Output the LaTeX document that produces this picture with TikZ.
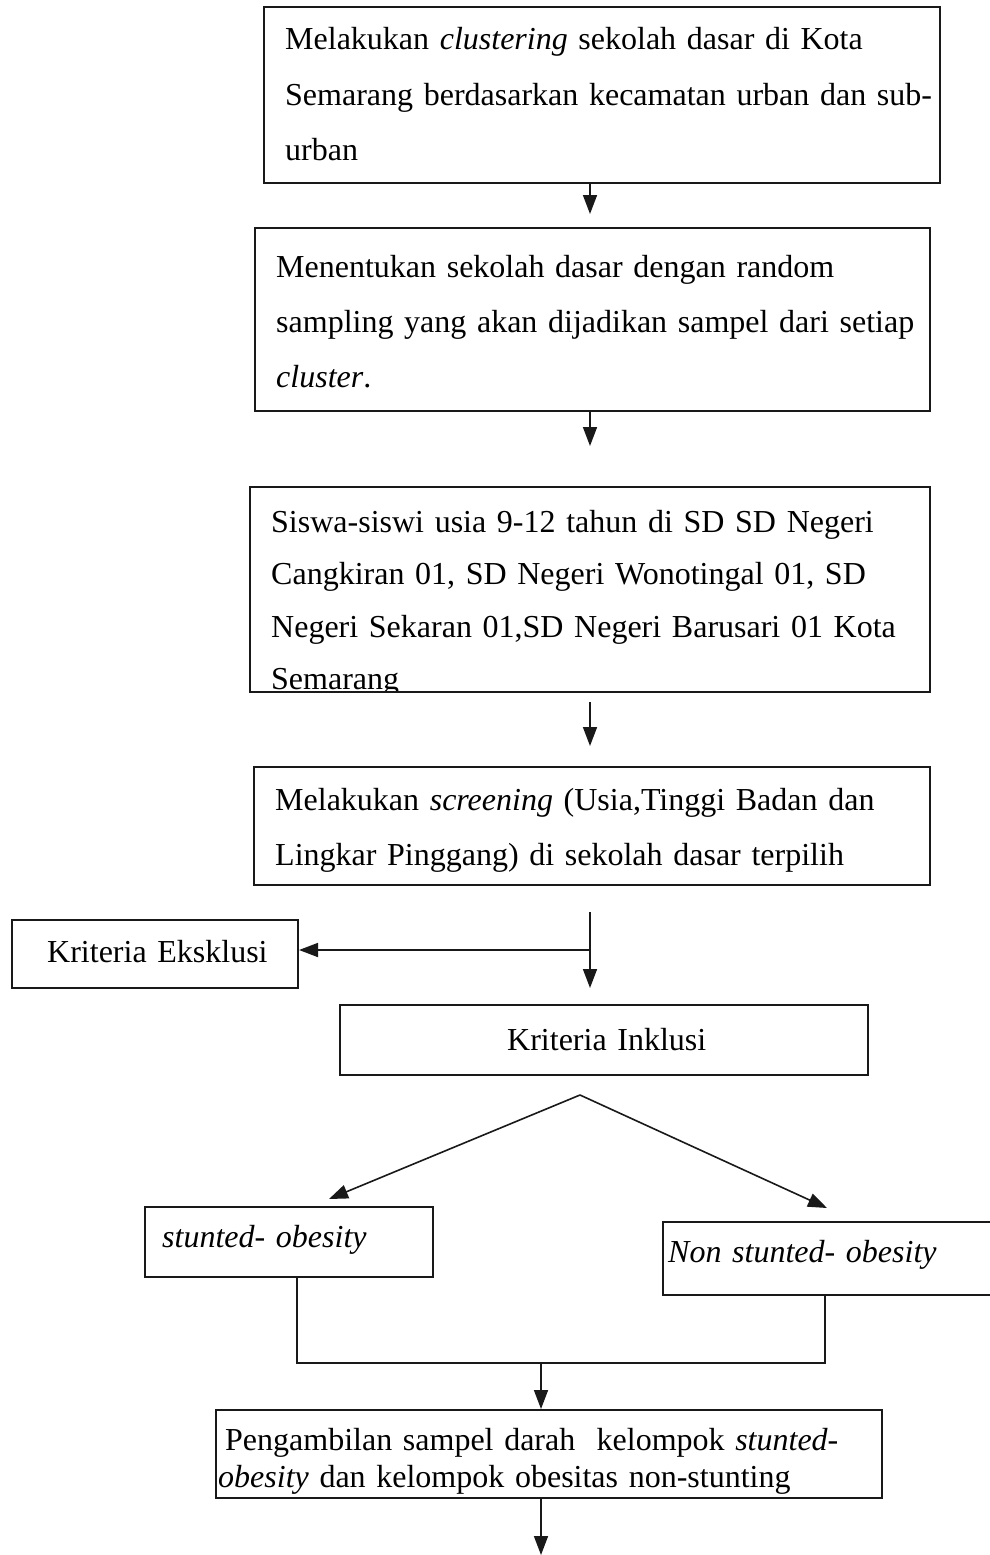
\documentclass[tikz,border=0pt]{standalone}
\usepackage{fontspec}
\setmainfont{Liberation Serif}
\usetikzlibrary{arrows.meta}
\begin{document}
\begin{tikzpicture}[x=1pt,y=-1pt,
  boxln/.style={draw=black!90, line width=2pt},
  txt/.style={inner sep=0pt, anchor=base west, align=left, text width=#1,
    font=\fontsize{32}{55.2}\selectfont},
  txtm/.style={inner sep=0pt, anchor=base west, align=left, text width=#1,
    font=\fontsize{32}{52.5}\selectfont},
  txts/.style={inner sep=0pt, anchor=base west, align=left, text width=#1,
    font=\fontsize{32}{37}\selectfont},
  conn/.style={draw=black!90, line width=1.6pt},
  arr/.style={conn, -{Triangle[length=19pt,width=14pt]}}]
\useasboundingbox (0,0) rectangle (990,1555);
% box 1
\node[boxln, minimum width=676pt, minimum height=176pt, inner sep=0pt] (b1) at (602,95) {};
\node[txt=660pt] (t1) at (285,50) {Melakukan \textit{clustering} sekolah dasar di Kota\\Semarang berdasarkan kecamatan urban dan sub-\\urban};
% box 2
\node[boxln, minimum width=675pt, minimum height=183pt, inner sep=0pt] (b2) at (592.5,319.5) {};
\node[txt=660pt] (t2) at (276,277) {Menentukan sekolah dasar dengan random\\sampling yang akan dijadikan sampel dari setiap\\\textit{cluster}.};
% box 3
\begin{scope}
\clip (250,487) rectangle (930,692);
\node[txtm=660pt] (t3) at (271,532) {Siswa-siswi usia 9-12 tahun di SD SD Negeri\\Cangkiran 01, SD Negeri Wonotingal 01, SD\\Negeri Sekaran 01,SD Negeri Barusari 01 Kota\\Semarang};
\end{scope}
\node[boxln, minimum width=680pt, minimum height=205pt, inner sep=0pt] (b3) at (590,589.5) {};
% box 4
\node[boxln, minimum width=676pt, minimum height=118pt, inner sep=0pt] (b4) at (592,826) {};
\node[txt=660pt] (t4) at (275,810) {Melakukan \textit{screening} (Usia,Tinggi Badan dan\\Lingkar Pinggang) di sekolah dasar terpilih};
% exclusion / inclusion
\node[boxln, minimum width=286pt, minimum height=68pt, inner sep=0pt] (ek) at (155,954) {};
\node[txt=250pt] (tek) at (47,962) {Kriteria Eksklusi};
\node[boxln, minimum width=528pt, minimum height=70pt, inner sep=0pt] (ik) at (604,1040) {};
\node[txt=300pt] (tik) at (507,1050) {Kriteria Inklusi};
% groups
\node[boxln, minimum width=288pt, minimum height=70pt, inner sep=0pt] (st) at (289,1242) {};
\node[txt=260pt] (tst) at (162,1247) {\textit{stunted- obesity}};
\node[boxln, minimum width=340pt, minimum height=73pt, inner sep=0pt] (ns) at (833,1258.5) {};
\node[txt=300pt] (tns) at (668,1262) {\textit{Non stunted- obesity}};
% blood sample
\node[boxln, minimum width=666pt, minimum height=88pt, inner sep=0pt] (pg) at (549,1454) {};
\node[txts=660pt] (tpg) at (218,1450) {\hspace*{7pt}Pengambilan sampel darah\ \ kelompok \textit{stunted-}\\\textit{obesity} dan kelompok obesitas non-stunting};
% coordinates
\coordinate (a1) at (590,214);
\coordinate (a2s) at (590,411);
\coordinate (a2) at (590,446);
\coordinate (a3s) at (590,702);
\coordinate (a3) at (590,746);
\coordinate (c1) at (590,912);
\coordinate (cm) at (590,950);
\coordinate (c2) at (590,988);
\coordinate (ap) at (580,1095);
\coordinate (la) at (329,1199);
\coordinate (ra) at (827,1208);
\coordinate (jl) at (297,1363);
\coordinate (jr) at (825,1363);
\coordinate (jm) at (541,1363);
\coordinate (end) at (541,1555);
% connectors
\draw[arr] (b1.south -| a1) -- (a1);
\draw[arr] (a2s) -- (a2);
\draw[arr] (a3s) -- (a3);
\draw[arr] (c1) -- (c2);
\draw[arr] (cm) -- (ek.east |- cm);
\draw[arr] (ap) -- (la);
\draw[arr] (ap) -- (ra);
\draw[conn] (st.south -| jl) -- (jl) -- (jr) -- (ns.south -| jr);
\draw[arr] (jm) -- (pg.north -| jm);
\draw[arr] (pg.south -| jm) -- (end);
\end{tikzpicture}
\end{document}
